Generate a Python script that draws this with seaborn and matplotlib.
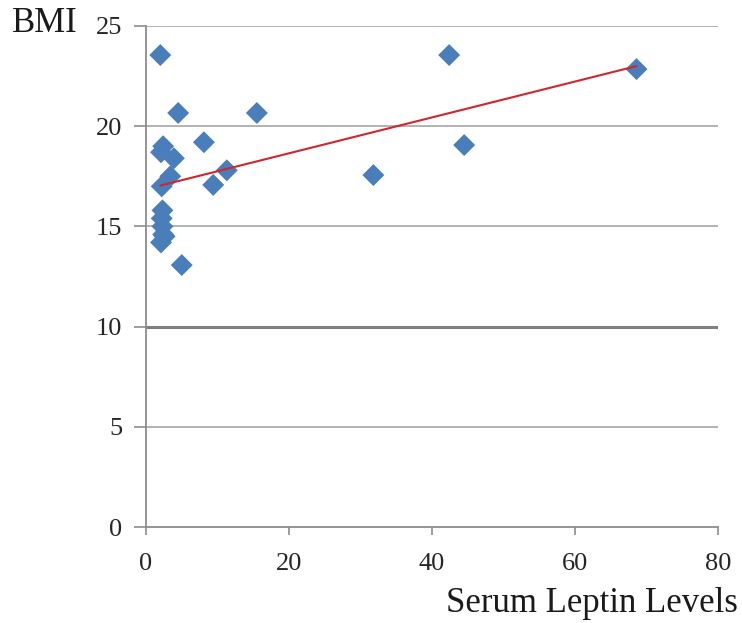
import matplotlib
matplotlib.use("Agg")
import matplotlib.pyplot as plt
import seaborn as sns
import numpy as np
import pandas as pd

# Data
leptin = [2.0, 42.4, 68.6, 4.5, 15.5, 8.1, 44.5, 2.4, 2.1, 3.9, 31.8, 11.3,
          9.4, 3.4, 2.2, 2.3, 2.2, 2.3, 2.4, 2.6, 2.1, 5.0]
bmi = [23.55, 23.55, 22.85, 20.66, 20.66, 19.2, 19.06, 19.0, 18.7, 18.4, 17.56,
       17.8, 17.07, 17.5, 17.0, 15.8, 15.4, 15.0, 14.6, 14.5, 14.2, 13.07]
x_ticks = [0, 20, 40, 60, 80]
y_ticks = [0, 5, 10, 15, 20, 25]

df = pd.DataFrame({"Serum Leptin Levels": leptin, "BMI": bmi})

sns.set_style("white")
plt.rcParams["font.family"] = ["Liberation Serif", "DejaVu Serif"]

fig = plt.figure(figsize=(7.42, 6.23), dpi=100)
ax = fig.add_axes([146 / 742, 1 - 527 / 623, (718 - 146) / 742, (527 - 26) / 623])

# gridlines
for yv in y_ticks[1:]:
    if yv == 10:
        ax.axhline(yv, color="#7f7f7f", lw=2.2, zorder=0)
    else:
        ax.axhline(yv, color="#a6a6a6", lw=1.2, zorder=0)

sns.scatterplot(data=df, x="Serum Leptin Levels", y="BMI", marker="D", s=125,
                color="#4a7ebb", edgecolor="none", linewidth=0, ax=ax, zorder=3)
sns.regplot(data=df, x="Serum Leptin Levels", y="BMI", scatter=False, ci=None,
            truncate=True, line_kws={"color": "#d0262e", "lw": 1.5, "zorder": 4}, ax=ax)

ax.set_xlim(0, 80)
ax.set_ylim(0, 25)
ax.set_xticks(x_ticks)
ax.set_yticks(y_ticks)
ax.set_xlabel("")
ax.set_ylabel("")

for s in ["top", "right"]:
    ax.spines[s].set_visible(False)
for s in ["left", "bottom"]:
    ax.spines[s].set_color("#8c8c8c")
    ax.spines[s].set_linewidth(1.3)

ax.tick_params(axis="both", which="major", direction="out", width=1.2,
               color="#8c8c8c", labelsize=19, labelcolor="#262626")
ax.tick_params(axis="x", pad=13, length=6, bottom=True)
ax.tick_params(axis="y", pad=8, length=9, left=True)

fig.text(12 / 742, 1 - 23 / 623, "BMI", fontsize=25, color="#1a1a1a", ha="left", va="center")
fig.text(738 / 742, 1 - 603 / 623, "Serum Leptin Levels", fontsize=25, color="#1a1a1a",
         ha="right", va="center")

fig.savefig("out.png", dpi=100)
